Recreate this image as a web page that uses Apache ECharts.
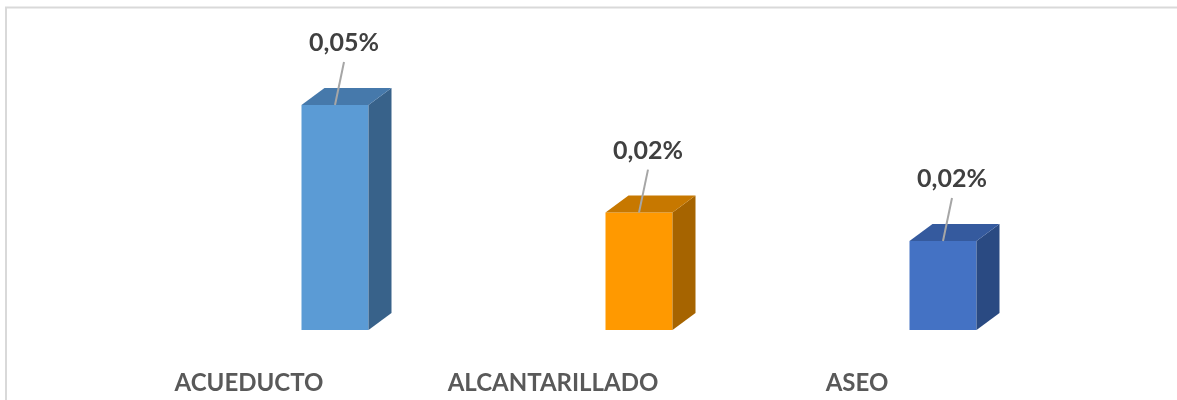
<!DOCTYPE html>
<html>
<head>
<meta charset="utf-8">
<script src="https://cdn.jsdelivr.net/npm/echarts@6/dist/echarts.min.js"></script>
<style>
  html, body { margin: 0; padding: 0; background: #fff; }
  #chart { width: 1177px; height: 400px; }
</style>
</head>
<body>
<div id="chart"></div>
<script>
// datos del grafico
var categories = ['ACUEDUCTO', 'ALCANTARILLADO', 'ASEO'];
var values = [0.046, 0.024, 0.0182];

// colores de cada barra: frente, tapa, lado
var frontColors = ['#5B9BD5', '#FF9900', '#4472C4'];
var topColors = ['#4679AB', '#C77800', '#355A9E'];
var sideColors = ['#38628A', '#A66400', '#2A4A82'];

function fmt(v) {
    return v.toFixed(2).replace('.', ',') + '%';
}

var myChart = echarts.init(document.getElementById('chart'));

var option = {
    backgroundColor: '#fff',
    animation: false,
    graphic: [{
        type: 'rect',
        shape: { x: 6, y: 7.5, width: 1200, height: 420 },
        style: { fill: 'none', stroke: '#D9D9D9', lineWidth: 2 },
        silent: true
    }],
    grid: { left: 183, right: 82, top: 61, bottom: 70 },
    xAxis: {
        type: 'category',
        data: categories,
        axisLine: { show: false },
        axisTick: { show: false },
        axisLabel: {
            color: '#595959',
            fontFamily: 'Lato',
            fontWeight: 'bold',
            fontSize: 24,
            margin: 41,
            padding: [0, 172, 0, 0]
        }
    },
    yAxis: {
        type: 'value',
        min: 0,
        max: 0.055,
        show: false,
        splitLine: { show: false }
    },
    series: [{
        type: 'custom',
        data: values.map(function (v, i) { return [i, v]; }),
        renderItem: function (params, api) {
            var i = params.dataIndex;
            var top = api.coord([api.value(0), api.value(1)]);
            var base = api.coord([api.value(0), 0]);
            var w = 67, dx = 23, dy = 17;
            var x0 = top[0] - w / 2, x1 = top[0] + w / 2;
            var yt = top[1], yb = base[1];
            return {
                type: 'group',
                children: [{
                    type: 'polygon',
                    shape: { points: [[x0, yt], [x1, yt], [x1, yb], [x0, yb]] },
                    style: { fill: frontColors[i] }
                }, {
                    type: 'polygon',
                    shape: { points: [[x1, yt], [x1 + dx, yt - dy], [x1 + dx, yb - dy], [x1, yb]] },
                    style: { fill: sideColors[i] }
                }, {
                    type: 'polygon',
                    shape: { points: [[x0, yt], [x0 + dx, yt - dy], [x1 + dx, yt - dy], [x1, yt]] },
                    style: { fill: topColors[i] }
                }, {
                    type: 'line',
                    shape: { x1: top[0] + 9, y1: yt - 43, x2: top[0], y2: yt },
                    style: { stroke: '#A6A6A6', lineWidth: 2 }
                }, {
                    type: 'text',
                    x: top[0] + 9,
                    y: yt - 62,
                    style: {
                        text: fmt(api.value(1)),
                        fill: '#404040',
                        font: 'bold 25px Lato',
                        align: 'center',
                        verticalAlign: 'middle'
                    }
                }]
            };
        }
    }]
};
myChart.setOption(option);
</script>
</body>
</html>
